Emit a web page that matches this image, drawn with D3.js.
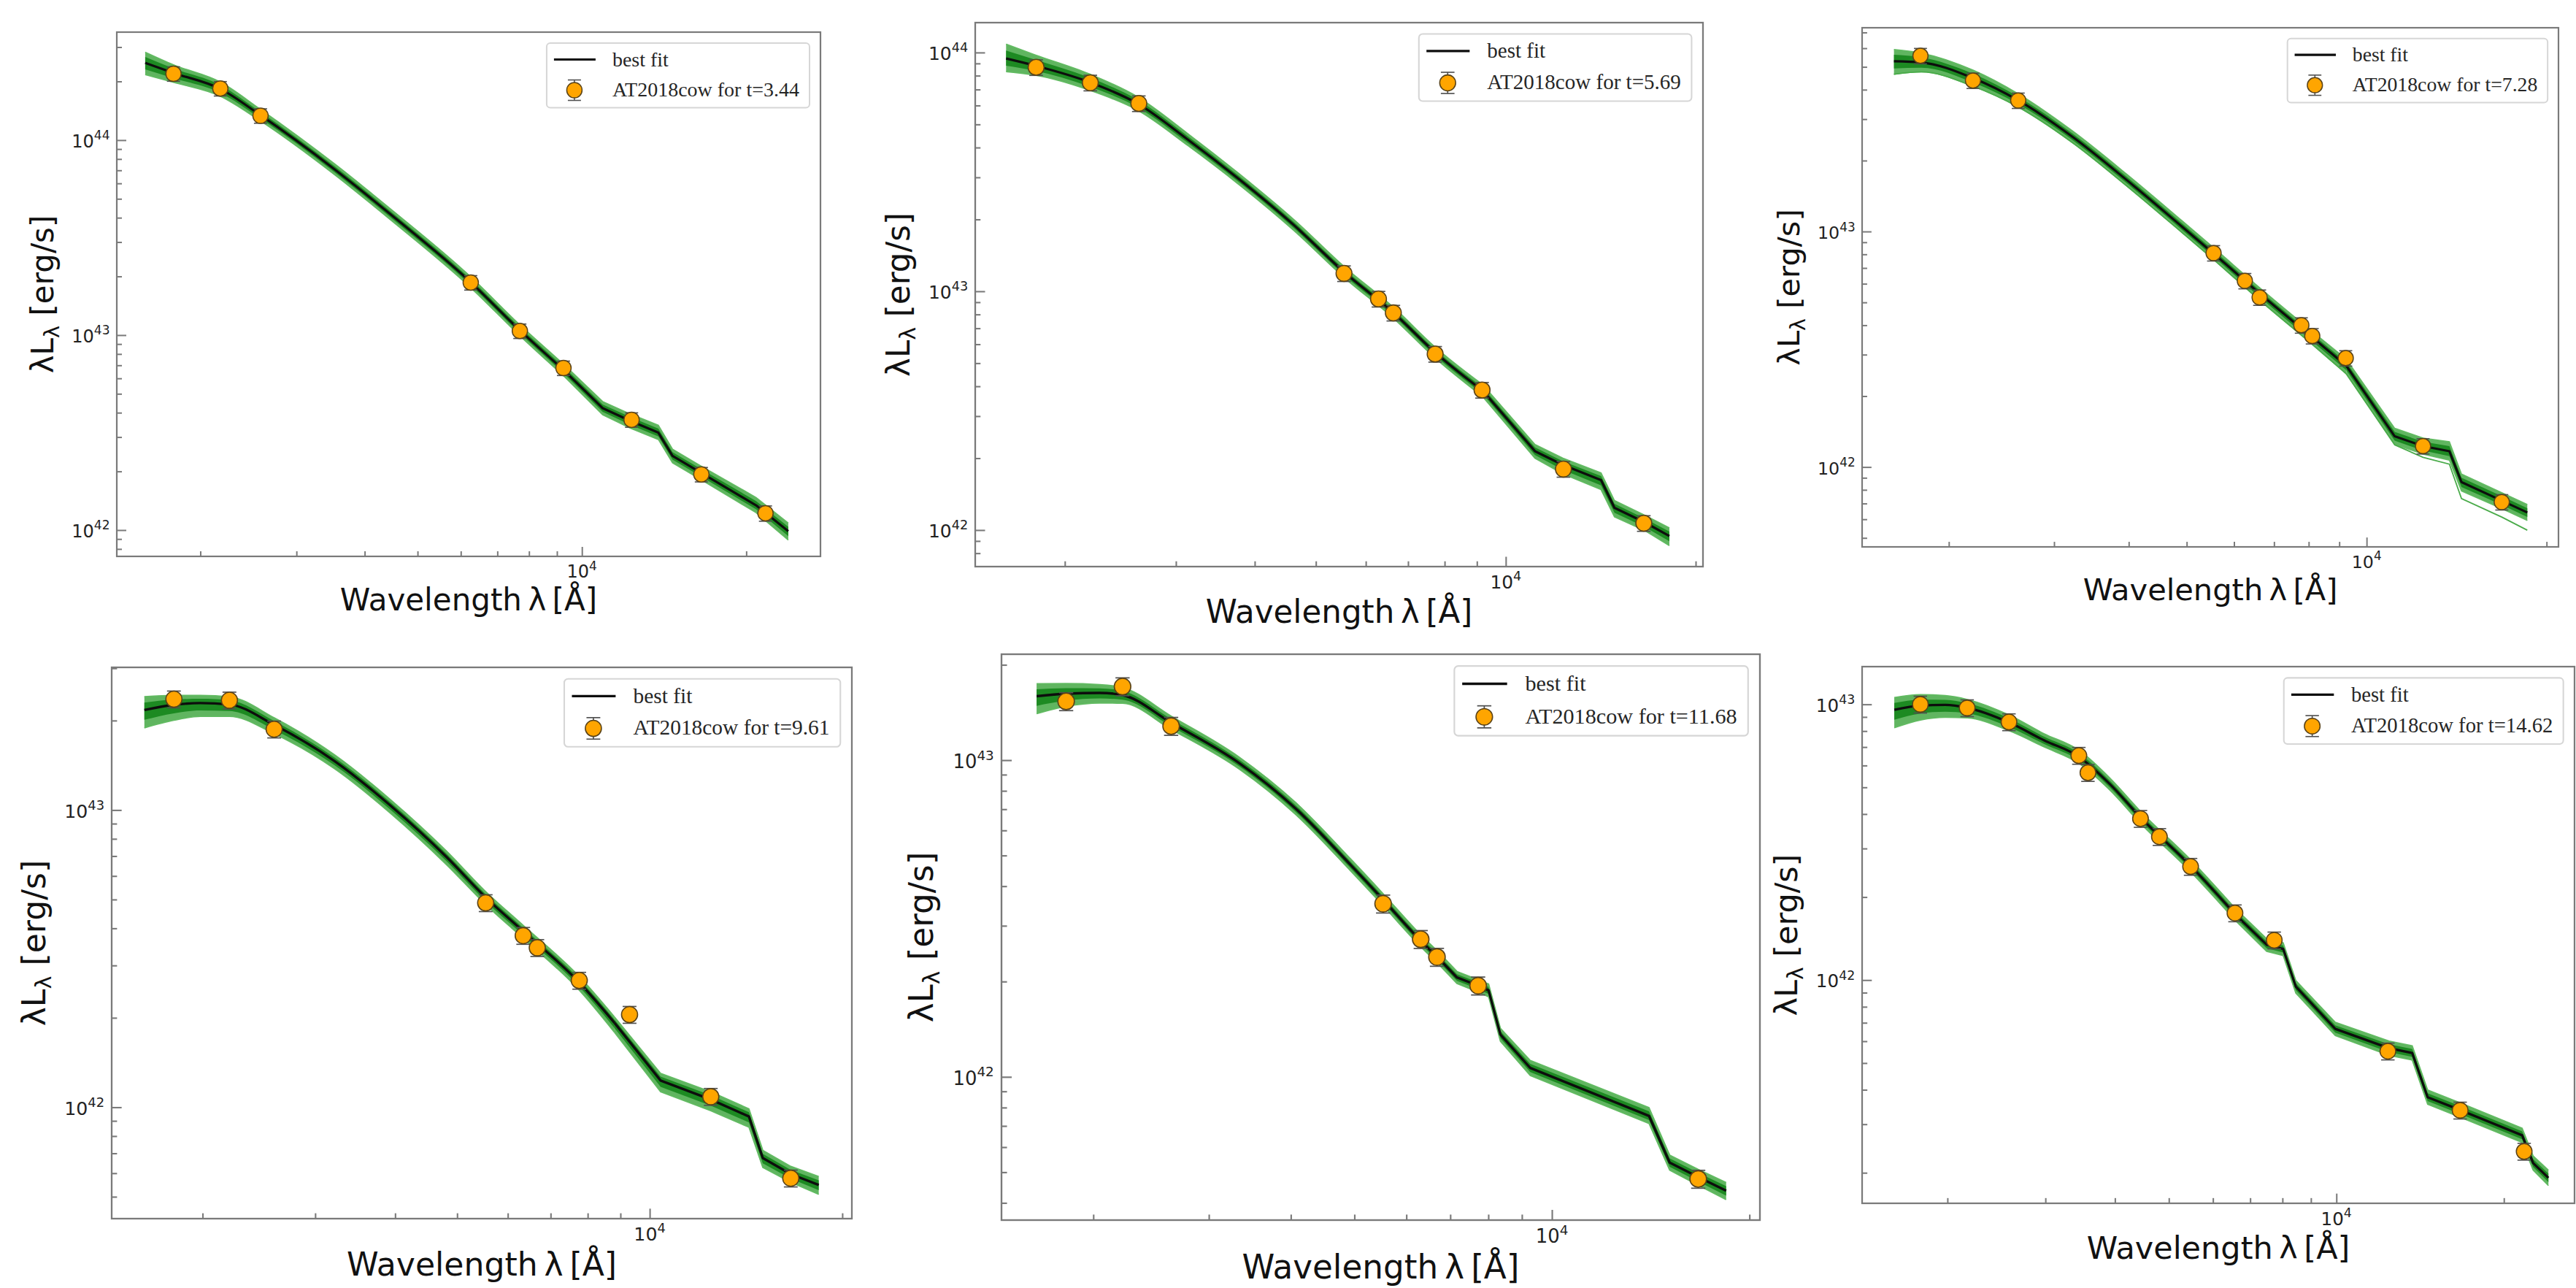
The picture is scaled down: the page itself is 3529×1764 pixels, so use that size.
<!DOCTYPE html>
<html>
<head>
<meta charset="utf-8">
<script src="https://cdn.jsdelivr.net/npm/d3@7"></script>
<style>
  body { margin: 0; background: #fff; }
</style>
</head>
<body>
<div id="wrapper"></div>
<script>
// ---- data (wavelength in Angstrom, luminosity in erg/s) ----
const epochs = ["3.44", "5.69", "7.28", "9.61", "11.68", "14.62"];

// axis limits of each panel
const xMin = [1406, 1442, 1432, 1442, 1449, 1405];
const xMax = [27350, 20540, 20940, 20700, 20750, 26790];
const yMin = [7.33e41, 7.03e41, 4.58e41, 4.22e41, 3.53e41, 1.55e41];
const yMax = [3.58e44, 1.334e44, 7.33e43, 3.02e43, 2.16e43, 1.37e43];

// t = 3.44
const obsWave1 = [1786, 2176, 2578, 6257, 7697, 9252, 12330, 16550, 21690];
const obsLum1 = [2.19e44, 1.84e44, 1.334e44, 1.86e43, 1.05e43, 6.78e42, 3.68e42, 1.93e42, 1.22e42];
const obsErr1 = [0.085, 0.085, 0.085, 0.085, 0.085, 0.085, 0.085, 0.085, 0.09];
const fitWave1 = [1585, 1786, 2178, 2565, 3524, 4457, 6252, 7691, 9226, 10914, 12274, 13804, 14655, 16558, 20845, 23878];
const fitLum1 = [2.49e44, 2.21e44, 1.83e44, 1.355e44, 7.08e43, 4.17e43, 1.87e43, 1.06e43, 6.68e42, 4.22e42, 3.63e42, 3.16e42, 2.40e42, 1.96e42, 1.34e42, 9.86e41];
const bandHi1 = [0.055, 0.042, 0.035, 0.03, 0.028, 0.028, 0.028, 0.028, 0.03, 0.034, 0.035, 0.038, 0.035, 0.035, 0.04, 0.042];
const bandLo1 = [0.06, 0.048, 0.038, 0.03, 0.028, 0.028, 0.028, 0.028, 0.03, 0.034, 0.038, 0.035, 0.035, 0.035, 0.038, 0.045];

// t = 5.69
const obsWave2 = [1801, 2195, 2620, 5541, 6284, 6634, 7728, 9171, 12343, 16550];
const obsLum2 = [8.67e43, 7.47e43, 6.12e43, 1.188e43, 9.29e42, 8.12e42, 5.46e42, 3.86e42, 1.80e42, 1.068e42];
const obsErr2 = [0.075, 0.075, 0.075, 0.075, 0.075, 0.075, 0.075, 0.075, 0.075, 0.075];
const fitWave2 = [1614, 1795, 2184, 2609, 3131, 3763, 4616, 5550, 6630, 7745, 9197, 11124, 12320, 14158, 14870, 16570, 18170];
const fitLum2 = [9.44e43, 8.81e43, 7.53e43, 6.11e43, 4.325e43, 2.972e43, 1.892e43, 1.20e43, 8.15e42, 5.51e42, 3.83e42, 2.14e42, 1.875e42, 1.62e42, 1.24e42, 1.08e42, 9.44e41];
const bandHi2 = [0.06, 0.045, 0.034, 0.028, 0.025, 0.023, 0.023, 0.023, 0.023, 0.023, 0.025, 0.028, 0.028, 0.03, 0.03, 0.03, 0.034];
const bandLo2 = [0.055, 0.04, 0.034, 0.028, 0.025, 0.023, 0.023, 0.023, 0.023, 0.023, 0.025, 0.03, 0.038, 0.04, 0.038, 0.034, 0.04];

// t = 7.28
const obsWave3 = [1793, 2195, 2613, 5546, 6256, 6622, 7776, 8110, 9227, 12427, 16830];
const obsLum3 = [5.57e43, 4.375e43, 3.60e43, 8.10e42, 6.17e42, 5.25e42, 4.00e42, 3.60e42, 2.90e42, 1.227e42, 7.10e41];
const obsErr3 = [0.075, 0.075, 0.075, 0.075, 0.075, 0.075, 0.075, 0.075, 0.075, 0.075, 0.075];
const fitWave3 = [1619, 1799, 2199, 2609, 3216, 3973, 4908, 5536, 6624, 8147, 9247, 11143, 12430, 13755, 14411, 16852, 18570];
const fitLum3 = [5.28e43, 5.22e43, 4.47e43, 3.61e43, 2.53e43, 1.65e43, 1.05e43, 8.09e42, 5.45e42, 3.52e42, 2.69e42, 1.35e42, 1.227e42, 1.167e42, 8.63e41, 7.19e41, 6.41e41];
const bandHi3 = [0.05, 0.04, 0.034, 0.028, 0.025, 0.025, 0.025, 0.025, 0.025, 0.025, 0.028, 0.034, 0.034, 0.04, 0.034, 0.034, 0.034];
const bandLo3 = [0.055, 0.04, 0.034, 0.028, 0.025, 0.025, 0.025, 0.025, 0.028, 0.03, 0.034, 0.034, 0.034, 0.038, 0.038, 0.034, 0.034];
const strayLo3 = [0.055, 0.04, 0.034, 0.028, 0.025, 0.025, 0.025, 0.025, 0.028, 0.03, 0.034, 0.036, 0.048, 0.055, 0.07, 0.07, 0.075];

// t = 9.61
const obsWave4 = [1804, 2203, 2588, 5541, 6343, 6672, 7760, 9300, 12458, 16615];
const obsLum4 = [2.36e43, 2.34e43, 1.87e43, 4.87e42, 3.78e42, 3.44e42, 2.67e42, 2.05e42, 1.086e42, 5.77e41];
const obsErr4 = [0.065, 0.065, 0.065, 0.065, 0.065, 0.065, 0.065, 0.065, 0.065, 0.065];
const fitWave4 = [1622, 1804, 1984, 2203, 2588, 3216, 3936, 4813, 5541, 6343, 7760, 8810, 10400, 12458, 14292, 15023, 16615, 18373];
const fitLum4 = [2.17e43, 2.26e43, 2.29e43, 2.265e43, 1.934e43, 1.462e43, 1.034e43, 6.95e42, 5.08e42, 3.91e42, 2.63e42, 1.923e42, 1.23e42, 1.062e42, 9.31e41, 6.75e41, 5.96e41, 5.48e41];
const bandHi4 = [0.045, 0.032, 0.026, 0.026, 0.024, 0.021, 0.02, 0.02, 0.02, 0.02, 0.02, 0.02, 0.024, 0.026, 0.026, 0.026, 0.026, 0.028];
const bandLo4 = [0.06, 0.052, 0.045, 0.04, 0.03, 0.026, 0.026, 0.026, 0.024, 0.024, 0.026, 0.032, 0.038, 0.038, 0.036, 0.032, 0.028, 0.032];

// t = 11.68
const obsWave5 = [1818, 2216, 2628, 5530, 6310, 6680, 7719, 16710];
const obsLum5 = [1.533e43, 1.708e43, 1.281e43, 3.52e42, 2.72e42, 2.39e42, 1.94e42, 4.76e41];
const obsErr5 = [0.065, 0.065, 0.065, 0.065, 0.065, 0.065, 0.065, 0.065];
const fitWave5 = [1639, 1818, 2045, 2216, 2628, 3337, 4061, 4938, 5521, 6310, 6691, 7166, 7720, 8008, 8346, 9268, 14060, 15118, 16710, 18430];
const fitLum5 = [1.591e43, 1.621e43, 1.631e43, 1.605e43, 1.313e43, 9.79e42, 7.06e42, 4.66e42, 3.64e42, 2.69e42, 2.39e42, 2.06e42, 1.94e42, 1.875e42, 1.36e42, 1.067e42, 7.53e41, 5.36e41, 4.83e41, 4.37e41];
const bandHi5 = [0.04, 0.032, 0.026, 0.024, 0.021, 0.019, 0.019, 0.019, 0.019, 0.019, 0.019, 0.019, 0.019, 0.02, 0.02, 0.024, 0.026, 0.024, 0.024, 0.026];
const bandLo5 = [0.055, 0.04, 0.032, 0.026, 0.021, 0.019, 0.019, 0.019, 0.019, 0.019, 0.019, 0.019, 0.02, 0.02, 0.021, 0.024, 0.024, 0.024, 0.026, 0.028];

// t = 14.62
const obsWave6 = [1788, 2170, 2580, 3445, 3577, 4446, 4808, 5470, 6573, 7733, 12374, 16688, 21750];
const obsLum6 = [1.0e43, 9.7e42, 8.63e42, 6.52e42, 5.65e42, 3.85e42, 3.31e42, 2.58e42, 1.75e42, 1.395e42, 5.52e41, 3.37e41, 2.39e41];
const obsErr6 = [0.07, 0.07, 0.07, 0.07, 0.07, 0.07, 0.07, 0.07, 0.07, 0.07, 0.07, 0.07, 0.07];
const fitWave6 = [1605, 1789, 1982, 2171, 2586, 2985, 3443, 3920, 4442, 5488, 6581, 7494, 8024, 8453, 9954, 12437, 13686, 14588, 16672, 21569, 22570, 24044];
const fitLum6 = [9.55e42, 9.89e42, 9.95e42, 9.72e42, 8.58e42, 7.40e42, 6.46e42, 5.13e42, 3.90e42, 2.58e42, 1.73e42, 1.343e42, 1.297e42, 9.48e41, 6.65e41, 5.66e41, 5.44e41, 3.76e41, 3.38e41, 2.735e41, 2.17e41, 1.917e41];
const bandHi6 = [0.045, 0.04, 0.034, 0.03, 0.027, 0.024, 0.024, 0.022, 0.022, 0.022, 0.022, 0.022, 0.022, 0.022, 0.024, 0.026, 0.026, 0.026, 0.026, 0.026, 0.026, 0.028];
const bandLo6 = [0.065, 0.052, 0.045, 0.037, 0.03, 0.024, 0.024, 0.022, 0.022, 0.022, 0.022, 0.024, 0.024, 0.024, 0.024, 0.026, 0.026, 0.026, 0.026, 0.026, 0.026, 0.028];

// ---- layout: frame of each panel in page pixels, s = scale of that panel's screenshot ----
const layout = [
  { left: 160,  top: 44,  right: 1124, bottom: 762,  s: 1.0 },
  { left: 1336, top: 31,  right: 2333, bottom: 776,  s: 1.038 },
  { left: 2551, top: 38,  right: 3505, bottom: 749,  s: 0.99 },
  { left: 153,  top: 914, right: 1167, bottom: 1669, s: 1.051 },
  { left: 1372, top: 896, right: 2411, bottom: 1671, s: 1.079 },
  { left: 2551, top: 913, right: 3527, bottom: 1648, s: 1.024 }
];
// index of the last vertex of the smooth (UV-optical) part; straight segments after it
const smoothEnd = [8, 10, 10, 11, 10, 10];

const panels = [
  { ow: obsWave1, ol: obsLum1, oe: obsErr1, fw: fitWave1, fl: fitLum1, hi: bandHi1, lo: bandLo1 },
  { ow: obsWave2, ol: obsLum2, oe: obsErr2, fw: fitWave2, fl: fitLum2, hi: bandHi2, lo: bandLo2 },
  { ow: obsWave3, ol: obsLum3, oe: obsErr3, fw: fitWave3, fl: fitLum3, hi: bandHi3, lo: bandLo3, stray: strayLo3 },
  { ow: obsWave4, ol: obsLum4, oe: obsErr4, fw: fitWave4, fl: fitLum4, hi: bandHi4, lo: bandLo4 },
  { ow: obsWave5, ol: obsLum5, oe: obsErr5, fw: fitWave5, fl: fitLum5, hi: bandHi5, lo: bandLo5 },
  { ow: obsWave6, ol: obsLum6, oe: obsErr6, fw: fitWave6, fl: fitLum6, hi: bandHi6, lo: bandLo6 }
];

const SANS = "'DejaVu Sans', sans-serif";
const SERIF = "'Liberation Serif', 'Times New Roman', serif";
const spineColor = "#7a7a7a";

const svg = d3.select("#wrapper")
  .append("svg")
    .attr("width", 3529)
    .attr("height", 1764)
    .style("background", "#fff");

panels.forEach((p, i) => {
  const L = layout[i];
  const s = L.s;

  const x = d3.scaleLog().domain([xMin[i], xMax[i]]).range([L.left, L.right]);
  const y = d3.scaleLog().domain([yMin[i], yMax[i]]).range([L.bottom, L.top]);

  const g = svg.append("g");

  g.append("clipPath").attr("id", "clip" + i)
    .append("rect")
      .attr("x", L.left).attr("y", L.top)
      .attr("width", L.right - L.left).attr("height", L.bottom - L.top);

  const plot = g.append("g").attr("clip-path", `url(#clip${i})`);

  const fit = p.fw.map((w, k) => ({ w, l: p.fl[k], hi: p.hi[k], lo: p.lo[k], st: p.stray ? p.stray[k] : 0 }));
  // smooth part drawn with a monotone curve, infrared part with straight segments
  const parts = [
    { data: fit.slice(0, smoothEnd[i] + 1), curve: d3.curveMonotoneX },
    { data: fit.slice(smoothEnd[i]), curve: d3.curveLinear }
  ];

  const band = (frac, curve) => d3.area()
    .x(d => x(d.w))
    .y0(d => y(d.l / Math.pow(10, d.lo * frac)))
    .y1(d => y(d.l * Math.pow(10, d.hi * frac)))
    .curve(curve);

  const offsetLine = (key, sign, curve) => d3.line()
    .x(d => x(d.w))
    .y(d => y(d.l * Math.pow(10, sign * d[key])))
    .curve(curve);

  parts.forEach(part => {
    plot.append("path").datum(part.data)
      .attr("d", band(1, part.curve))
      .attr("fill", "#3da53d")
      .attr("opacity", 0.82);
  });
  parts.forEach(part => {
    plot.append("path").datum(part.data)
      .attr("d", band(0.55, part.curve))
      .attr("fill", "#1d8a22");
  });
  parts.forEach(part => {
    plot.append("path").datum(part.data).attr("d", offsetLine("hi", 1, part.curve))
      .attr("fill", "none").attr("stroke", "#62bb62").attr("stroke-width", 1.6 * s);
    plot.append("path").datum(part.data).attr("d", offsetLine("lo", -1, part.curve))
      .attr("fill", "none").attr("stroke", "#62bb62").attr("stroke-width", 1.6 * s);
    if (p.stray) {
      plot.append("path").datum(part.data).attr("d", offsetLine("st", -1, part.curve))
        .attr("fill", "none").attr("stroke", "#4aab4a").attr("stroke-width", 1.8 * s);
    }
  });

  // best fit line
  parts.forEach(part => {
    plot.append("path").datum(part.data)
      .attr("d", d3.line().x(d => x(d.w)).y(d => y(d.l)).curve(part.curve))
      .attr("fill", "none")
      .attr("stroke", "#0d0d0d")
      .attr("stroke-width", 3.2 * s)
      .attr("stroke-linejoin", "round");
  });

  // data points with error bars
  const obs = p.ow.map((w, k) => ({ w, l: p.ol[k], e: p.oe[k] }));
  const cap = 9 * s;
  const eb = g.append("g").attr("stroke", "#505050").attr("stroke-width", 1.6 * s);
  obs.forEach(d => {
    const cx = x(d.w), y1 = y(d.l * (1 + d.e)), y0 = y(d.l * (1 - d.e));
    eb.append("line").attr("x1", cx).attr("x2", cx).attr("y1", y1).attr("y2", y0);
    eb.append("line").attr("x1", cx - cap).attr("x2", cx + cap).attr("y1", y1).attr("y2", y1);
    eb.append("line").attr("x1", cx - cap).attr("x2", cx + cap).attr("y1", y0).attr("y2", y0);
  });
  g.append("g").selectAll("circle")
      .data(obs)
    .enter().append("circle")
      .attr("cx", d => x(d.w))
      .attr("cy", d => y(d.l))
      .attr("r", 10.5 * s)
      .attr("fill", "#ffa500")
      .attr("stroke", "#5a4318")
      .attr("stroke-width", 1.5 * s);

  // ticks (pointing inward), major = powers of ten
  const isMajor = v => Math.abs(Math.log10(v) - Math.round(Math.log10(v))) < 1e-9;
  const xt = x.ticks(), yt = y.ticks();

  const styleAxis = sel => {
    sel.select(".domain").remove();
    sel.selectAll("line").attr("stroke", spineColor).attr("stroke-width", 2 * s);
    sel.selectAll("text").remove();
  };

  g.append("g").attr("transform", `translate(0,${L.bottom})`)
    .call(d3.axisBottom(x).tickValues(xt.filter(v => !isMajor(v))).tickSize(-7 * s).tickFormat(""))
    .call(styleAxis);
  g.append("g").attr("transform", `translate(0,${L.bottom})`)
    .call(d3.axisBottom(x).tickValues(xt.filter(isMajor)).tickSize(-13 * s).tickFormat(""))
    .call(styleAxis);
  g.append("g").attr("transform", `translate(${L.left},0)`)
    .call(d3.axisLeft(y).tickValues(yt.filter(v => !isMajor(v))).tickSize(-7 * s).tickFormat(""))
    .call(styleAxis);
  g.append("g").attr("transform", `translate(${L.left},0)`)
    .call(d3.axisLeft(y).tickValues(yt.filter(isMajor)).tickSize(-13 * s).tickFormat(""))
    .call(styleAxis);

  // tick labels 10^n
  const powLabel = (sel, v) => {
    sel.append("tspan").text("10");
    sel.append("tspan")
      .attr("dy", -10.5 * s)
      .attr("font-size", 17 * s)
      .text(Math.round(Math.log10(v)));
  };

  xt.filter(isMajor).forEach(v => {
    g.append("text")
      .attr("x", x(v)).attr("y", L.bottom + 29 * s)
      .attr("text-anchor", "middle")
      .attr("font-family", SANS).attr("font-size", 24 * s).attr("fill", "#222")
      .call(powLabel, v);
  });
  yt.filter(isMajor).forEach(v => {
    g.append("text")
      .attr("x", L.left - 9.5 * s).attr("y", y(v) + 10 * s)
      .attr("text-anchor", "end")
      .attr("font-family", SANS).attr("font-size", 24 * s).attr("fill", "#222")
      .call(powLabel, v);
  });

  // frame
  g.append("rect")
    .attr("x", L.left).attr("y", L.top)
    .attr("width", L.right - L.left).attr("height", L.bottom - L.top)
    .attr("fill", "none")
    .attr("stroke", spineColor)
    .attr("stroke-width", 2.2 * s);

  // axis titles
  g.append("text")
    .attr("x", (L.left + L.right) / 2)
    .attr("y", L.bottom + 74 * s)
    .attr("text-anchor", "middle")
    .attr("font-family", SANS).attr("font-size", 42 * s).attr("fill", "#111")
    .text("Wavelength\u2009λ\u2009[Å]");

  const yl = g.append("text")
    .attr("transform", `translate(${L.left - 87 * s},${(L.top + L.bottom) / 2}) rotate(-90)`)
    .attr("text-anchor", "middle")
    .attr("font-family", SANS).attr("font-size", 42 * s).attr("fill", "#111");
  yl.append("tspan").text("λL");
  yl.append("tspan").attr("dy", 8 * s).attr("font-size", 29 * s).text("λ");
  yl.append("tspan").attr("dy", -8 * s).text(" [erg/s]");

  // legend
  const lg = g.append("g");
  const box = lg.append("rect");
  const label2 = lg.append("text")
    .attr("font-family", SERIF).attr("font-size", 28 * s).attr("fill", "#262626")
    .text(`AT2018cow for t=${epochs[i]}`);
  const tw = label2.node().getComputedTextLength();
  const bw = 90 * s + tw + 14 * s, bh = 88.5 * s;
  const bx = L.right - 15 * s - bw, by = L.top + 15 * s;
  box.attr("x", bx).attr("y", by).attr("width", bw).attr("height", bh)
    .attr("rx", 5 * s)
    .attr("fill", "#fff").attr("fill-opacity", 0.85)
    .attr("stroke", "#d6d6d6").attr("stroke-width", 2 * s);
  label2.attr("x", bx + 90 * s).attr("y", by + 73 * s);

  lg.append("line")
    .attr("x1", bx + 10 * s).attr("x2", bx + 67 * s)
    .attr("y1", by + 22.5 * s).attr("y2", by + 22.5 * s)
    .attr("stroke", "#0d0d0d").attr("stroke-width", 3.2 * s);
  lg.append("text")
    .attr("x", bx + 90 * s).attr("y", by + 31.5 * s)
    .attr("font-family", SERIF).attr("font-size", 28 * s).attr("fill", "#262626")
    .text("best fit");

  const mx = bx + 38 * s, my = by + 64.5 * s;
  const leb = lg.append("g").attr("stroke", "#505050").attr("stroke-width", 1.6 * s);
  leb.append("line").attr("x1", mx).attr("x2", mx).attr("y1", my - 14 * s).attr("y2", my + 14 * s);
  leb.append("line").attr("x1", mx - cap).attr("x2", mx + cap).attr("y1", my - 14 * s).attr("y2", my - 14 * s);
  leb.append("line").attr("x1", mx - cap).attr("x2", mx + cap).attr("y1", my + 14 * s).attr("y2", my + 14 * s);
  lg.append("circle")
    .attr("cx", mx).attr("cy", my).attr("r", 10.5 * s)
    .attr("fill", "#ffa500").attr("stroke", "#5a4318").attr("stroke-width", 1.5 * s);
});
</script>
</body>
</html>
